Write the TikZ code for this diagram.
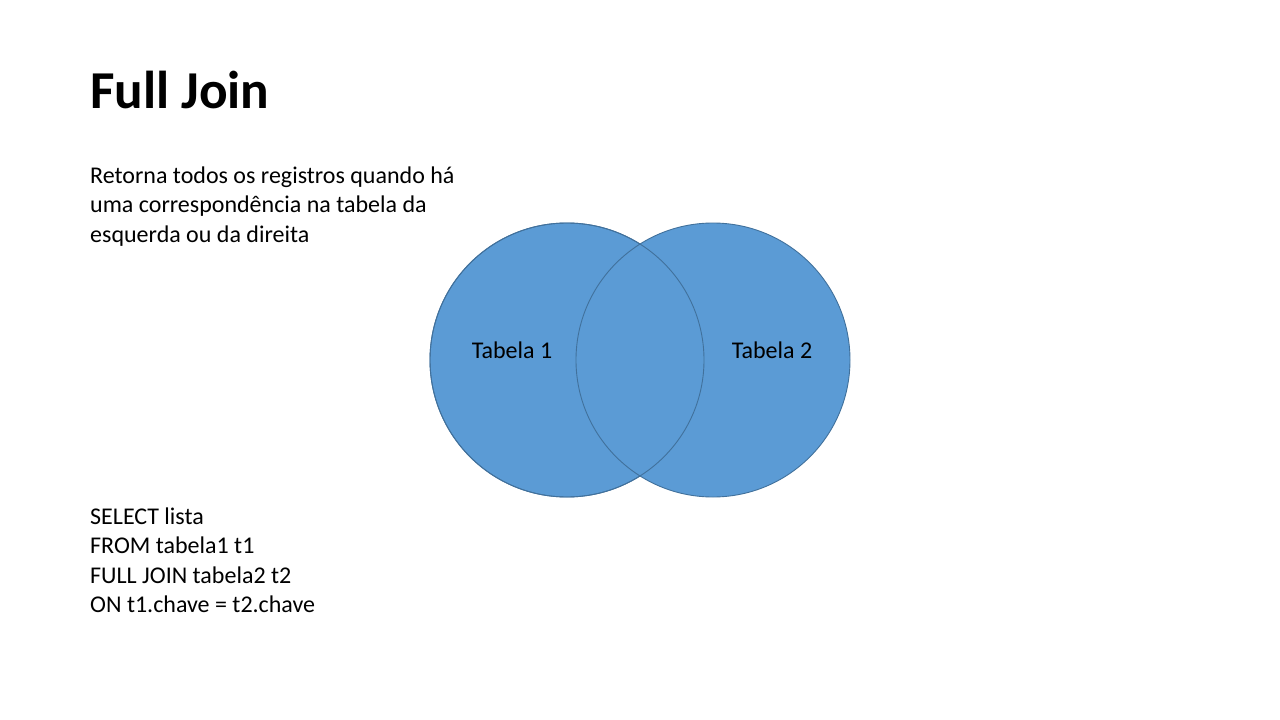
\documentclass[tikz,border=0pt]{standalone}
\usepackage{fontspec}
\setmainfont{Carlito}
\definecolor{vennfill}{HTML}{5B9BD5}
\definecolor{vennline}{HTML}{41719C}
\begin{document}
\begin{tikzpicture}[x=1bp,y=-1bp,
  venn/.style={circle,fill=vennfill,draw=vennline,line width=0.9bp,minimum size=274bp,inner sep=0pt},
  body/.style={anchor=base west,inner sep=0pt,font=\fontsize{24bp}{29.3bp}\selectfont,text=black},
  label/.style={anchor=base,inner sep=0pt,font=\fontsize{24bp}{29.3bp}\selectfont,text=black},
  titletext/.style={anchor=base west,inner sep=0pt,font=\fontsize{53.3bp}{64bp}\selectfont\bfseries,text=black}]
\useasboundingbox[fill=white] (0,0) rectangle (1280,720);
\node[titletext] (title) at (90,108.5) {Full Join};
\node[body] (d1) at (90,183.5) {Retorna todos os registros quando há};
\node[body] (d2) at (90,212.8) {uma correspondência na tabela da};
\node[body] (d3) at (90,242.1) {esquerda ou da direita};
\node[venn] (c1) at (567,360) {};
\node[venn] (c2) at (713,360) {};
\draw[vennline,line width=0.9bp] (c1.center) circle[radius=137];
\node[label] (t1) at (512,358.5) {Tabela 1};
\node[label] (t2) at (772,358.5) {Tabela 2};
\node[body] (s1) at (90,524.5) {SELECT lista};
\node[body] (s2) at (90,553.8) {FROM tabela1 t1};
\node[body] (s3) at (90,583.1) {FULL JOIN tabela2 t2};
\node[body] (s4) at (90,612.4) {ON t1.chave = t2.chave};
\end{tikzpicture}
\end{document}
